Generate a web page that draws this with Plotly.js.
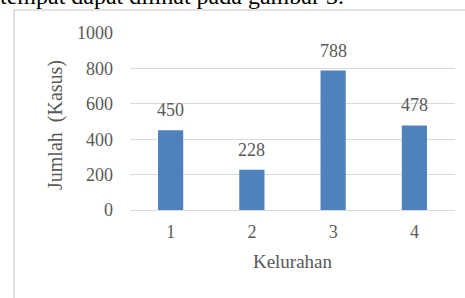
<!DOCTYPE html>
<html>
<head>
<meta charset="utf-8">
<script src="https://cdn.plot.ly/plotly-3.0.1.min.js"></script>
<style>html,body{margin:0;padding:0;background:#fff;}#chart{width:465px;height:298px;}</style>
</head>
<body>
<div id="chart"></div>
<script>
const categories = ['1', '2', '3', '4'];
const values = [450, 228, 788, 478];
const yTicks = [0, 200, 400, 600, 800, 1000];
const xTitle = 'Kelurahan';
const yTitle = 'Jumlah  (Kasus)';
const captionAbove = 'tempat dapat dilihat pada gambar 3.';

const FONT = 'Liberation Serif, Times New Roman, serif';
const GREY = '#595959';

const trace = {
  type: 'bar',
  x: categories,
  y: values,
  marker: {color: '#4F81BD', line: {color: '#4F81BD', width: 0}},
  hoverinfo: 'none'
};

const labelAnnotations = categories.map((c, i) => ({
  x: i, y: values[i], xref: 'x', yref: 'y',
  text: String(values[i]), showarrow: false,
  yanchor: 'bottom', yshift: 8,
  font: {family: FONT, size: 18, color: GREY}
}));

const layout = {
  width: 465, height: 298,
  margin: {l: 130, r: 10, t: 33, b: 88},
  paper_bgcolor: '#ffffff', plot_bgcolor: '#ffffff',
  bargap: 0.69,
  showlegend: false,
  font: {family: FONT, size: 18, color: GREY},
  xaxis: {
    type: 'category',
    range: [-0.5, 3.5],
    showgrid: false,
    showline: true, linecolor: '#D9D9D9', linewidth: 1,
    ticks: '', ticklabelstandoff: 5,
    tickfont: {family: FONT, size: 18, color: GREY},
    title: {text: xTitle, font: {family: FONT, size: 19, color: GREY}, standoff: 14}
  },
  yaxis: {
    range: [0, 1000],
    tickvals: yTicks,
    showgrid: true, gridcolor: '#D9D9D9', gridwidth: 1,
    zeroline: false, showline: false,
    ticks: '', ticklabelstandoff: 16,
    tickfont: {family: FONT, size: 18, color: GREY}
  },
  shapes: [
    {type: 'line', xref: 'paper', yref: 'paper', x0: -0.357, x1: 1.1, y0: 1.13, y1: 1.13,
     line: {color: '#D9D9D9', width: 1.5}},
    {type: 'line', xref: 'paper', yref: 'paper', x0: -0.357, x1: -0.357, y0: 1.13, y1: -0.6,
     line: {color: '#D9D9D9', width: 1.5}}
  ],
  annotations: labelAnnotations.concat([
    {xref: 'paper', yref: 'paper', x: -0.231, y: 0.48, xanchor: 'center', yanchor: 'middle',
     text: yTitle, textangle: -90, showarrow: false,
     font: {family: FONT, size: 20, color: GREY}},
    {xref: 'paper', yref: 'paper', x: -0.405, y: (210 - 5) / 177, xanchor: 'left', yanchor: 'bottom',
     yshift: -6, text: captionAbove, showarrow: false,
     font: {family: FONT, size: 24, color: '#000000'}}
  ])
};

Plotly.newPlot('chart', [trace], layout, {displayModeBar: false, staticPlot: true});
</script>
</body>
</html>
